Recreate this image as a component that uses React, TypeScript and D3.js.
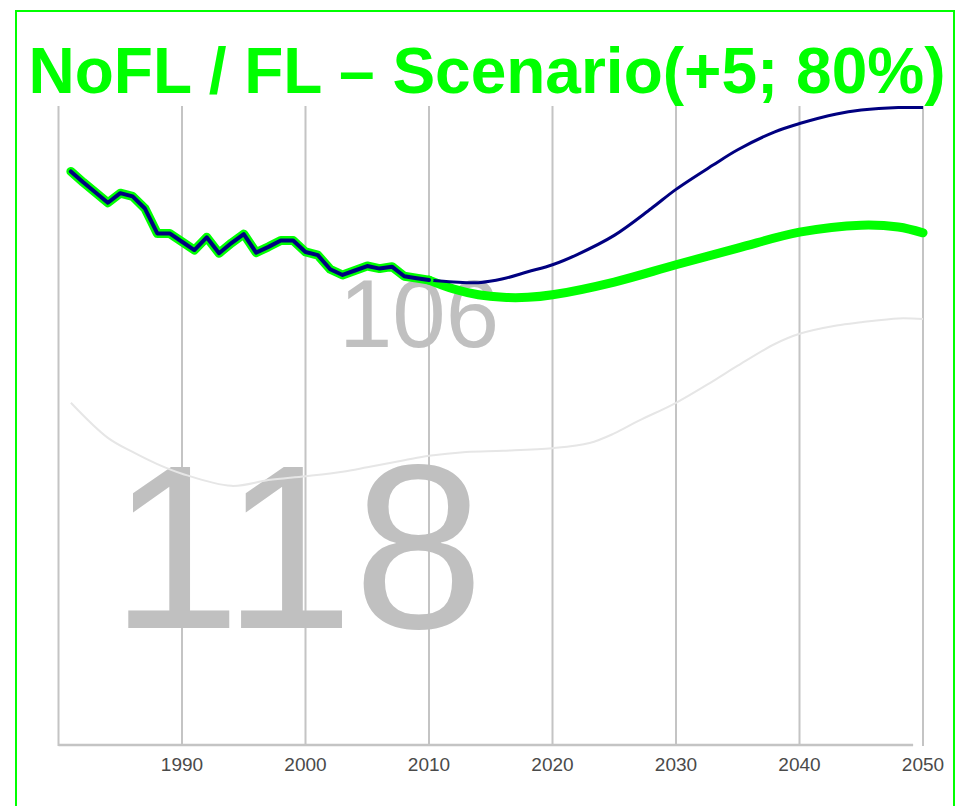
import * as d3 from "d3";
import { useRef, useEffect } from "react";

// historical series (1981-2010)
const histYears = [
  1981, 1982, 1983, 1984, 1985, 1986, 1987, 1988, 1989, 1990, 1991, 1992,
  1993, 1994, 1995, 1996, 1997, 1998, 1999, 2000, 2001, 2002, 2003, 2004,
  2005, 2006, 2007, 2008, 2009, 2010,
];
const histValues = [
  89.6, 87.9, 86.3, 84.7, 86.2, 85.7, 83.8, 79.9, 79.9, 78.6, 77.3, 79.3,
  76.8, 78.4, 79.8, 76.9, 77.8, 78.8, 78.8, 77.0, 76.5, 74.3, 73.4, 74.1,
  74.8, 74.4, 74.7, 73.2, 72.9, 72.6,
];

// NoFL projection
const noflYears = [
  2010, 2012, 2014, 2016, 2018, 2020, 2022, 2025, 2028, 2030, 2033, 2035,
  2038, 2040, 2043, 2045, 2048, 2050,
];
const noflValues = [
  72.6, 72.3, 72.2, 72.8, 73.9, 75.0, 76.6, 79.6, 83.8, 86.8, 90.6, 93.0,
  95.8, 97.1, 98.6, 99.2, 99.6, 99.6,
];

// FL projection
const flYears = [
  2010, 2012, 2014, 2016, 2018, 2020, 2025, 2030, 2035, 2040, 2045, 2048,
  2050,
];
const flValues = [
  72.6, 71.2, 70.3, 69.9, 69.9, 70.3, 72.3, 75.0, 77.6, 80.1, 81.2, 80.9,
  80.0,
];

// faint reference series
const refYears = [
  1981, 1984, 1986, 1988, 1990, 1994, 1997, 2000, 2003, 2005, 2008, 2010,
  2013, 2016, 2020, 2023, 2025, 2027, 2030, 2033, 2035, 2038, 2040, 2043,
  2045, 2048, 2050,
];
const refValues = [
  53.4, 47.9, 45.7, 43.8, 42.3, 40.4, 41.3, 41.9, 42.6, 43.3, 44.4, 45.1,
  45.7, 45.9, 46.3, 47.1, 48.6, 50.6, 53.4, 56.8, 59.2, 62.6, 64.2, 65.5,
  66.0, 66.6, 66.5,
];

const gridYears = [1980, 1990, 2000, 2010, 2020, 2030, 2040, 2050];
const tickYears = [1990, 2000, 2010, 2020, 2030, 2040, 2050];

const title = "NoFL / FL – Scenario(+5; 80%)";
const bigLabel = "118";
const smallLabel = "106";

type Pt = [number, number];
const zip = (xs: number[], ys: number[]): Pt[] => xs.map((x, i) => [x, ys[i]]);

function draw(svgEl: SVGSVGElement | null) {
  if (!svgEl) return;
  const svg = d3.select(svgEl);
  svg.selectAll("*").remove();

  const x = d3.scaleLinear().domain([1980, 2050]).range([58.5, 923]);
  const y = d3.scaleLinear().domain([0, 100]).range([744, 105]);

  // frame
  svg
    .append("rect")
    .attr("x", 16)
    .attr("y", 11)
    .attr("width", 938)
    .attr("height", 830)
    .attr("fill", "none")
    .attr("stroke", "#00ff00")
    .attr("stroke-width", 2);

  // title
  svg
    .append("text")
    .attr("x", 487)
    .attr("y", 93)
    .attr("text-anchor", "middle")
    .attr("font-family", "'Liberation Sans', Arial, sans-serif")
    .attr("font-weight", "bold")
    .attr("font-size", 64)
    .attr("fill", "#00ff00")
    .text(title);

  // grid
  svg
    .append("g")
    .selectAll("line")
    .data(gridYears)
    .join("line")
    .attr("x1", (d) => x(d))
    .attr("x2", (d) => x(d))
    .attr("y1", 106)
    .attr("y2", 746)
    .attr("stroke", "#c4c4c4")
    .attr("stroke-width", 2);

  // axis line
  svg
    .append("line")
    .attr("x1", x(1980))
    .attr("x2", x(2049.2))
    .attr("y1", 745)
    .attr("y2", 745)
    .attr("stroke", "#c4c4c4")
    .attr("stroke-width", 2.5);

  svg
    .append("g")
    .attr("font-family", "'Liberation Sans', Arial, sans-serif")
    .attr("font-size", 19)
    .attr("fill", "#4a4a4a")
    .attr("text-anchor", "middle")
    .selectAll("text")
    .data(tickYears)
    .join("text")
    .attr("x", (d) => x(d))
    .attr("y", 771)
    .text((d) => String(d));

  // big value labels
  const labels = svg
    .append("g")
    .attr("font-family", "'Liberation Sans', Arial, sans-serif")
    .attr("fill", "#c0c0c0")
    .attr("text-anchor", "middle");
  labels
    .append("text")
    .attr("x", 297)
    .attr("y", 628)
    .attr("font-size", 234)
    .text(bigLabel);
  labels
    .append("text")
    .attr("x", 419)
    .attr("y", 347)
    .attr("font-size", 96)
    .text(smallLabel);

  const line = d3
    .line<Pt>()
    .x((d) => x(d[0]))
    .y((d) => y(d[1]));
  const smooth = d3
    .line<Pt>()
    .x((d) => x(d[0]))
    .y((d) => y(d[1]))
    .curve(d3.curveCatmullRom.alpha(0.5));

  svg
    .append("path")
    .attr("d", smooth(zip(refYears, refValues)))
    .attr("fill", "none")
    .attr("stroke", "#e6e6e6")
    .attr("stroke-width", 2);

  svg
    .append("path")
    .attr("d", smooth(zip(flYears, flValues)))
    .attr("fill", "none")
    .attr("stroke", "#00ff00")
    .attr("stroke-width", 9)
    .attr("stroke-linecap", "round");

  svg
    .append("path")
    .attr("d", smooth(zip(noflYears, noflValues)))
    .attr("fill", "none")
    .attr("stroke", "#000080")
    .attr("stroke-width", 3);

  // history: lime halo + navy core
  const hist = zip(histYears, histValues);
  svg
    .append("path")
    .attr("d", line(hist))
    .attr("fill", "none")
    .attr("stroke", "#00ff00")
    .attr("stroke-width", 9)
    .attr("stroke-linejoin", "round")
    .attr("stroke-linecap", "round");
  svg
    .append("path")
    .attr("d", line(hist))
    .attr("fill", "none")
    .attr("stroke", "#000080")
    .attr("stroke-width", 4)
    .attr("stroke-linejoin", "round")
    .attr("stroke-linecap", "round");
}

const App = () => {
  const ref = useRef<SVGSVGElement | null>(null);

  useEffect(() => {
    draw(ref.current);
  }, []);

  return (
    <svg
      ref={ref}
      width={961}
      height={806}
      style={{ position: "absolute", left: 0, top: 0, display: "block" }}
    ></svg>
  );
};

export default App;
